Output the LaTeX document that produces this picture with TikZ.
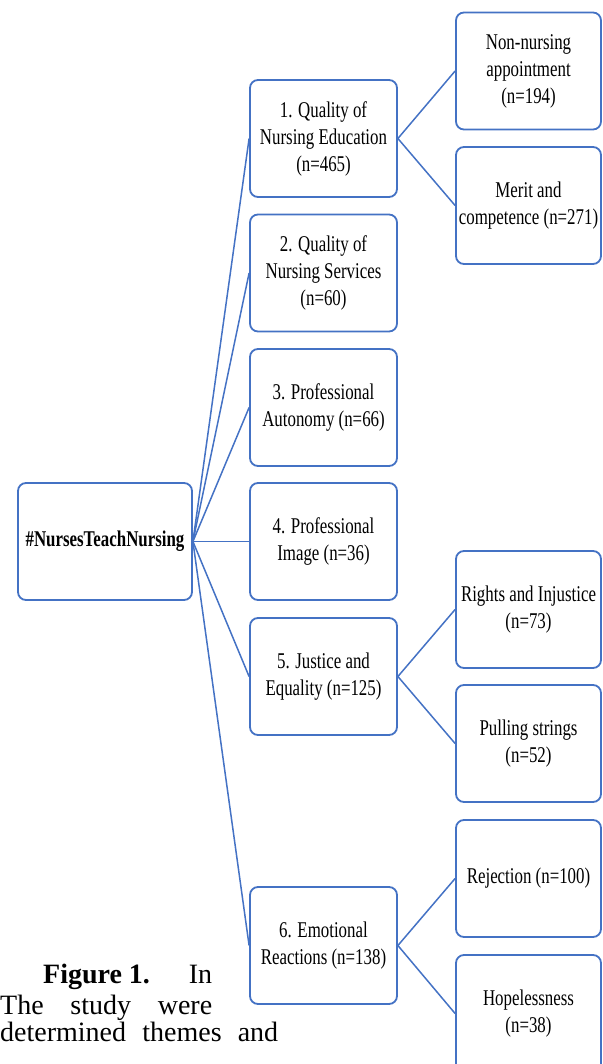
\documentclass[tikz,border=0pt]{standalone}
\usepackage{fontspec}
\setmainfont{Liberation Serif}
\newfontfamily\narrowfont[FakeStretch=0.75]{Liberation Serif}
\definecolor{themeblue}{RGB}{68,114,196}

\begin{document}
\begin{tikzpicture}[x=1pt, y=-1pt,
  theme/.style={draw=themeblue, line width=1.8pt, rounded corners=8pt, fill=white,
    minimum width=147pt, minimum height=117pt, align=center, inner sep=2pt,
    font=\narrowfont\fontsize{22.5}{27}\selectfont},
  sub/.style={theme, minimum width=145pt},
  link/.style={draw=themeblue, line width=1.5pt},
  caption/.style={anchor=base west, inner sep=0pt, font=\fontsize{28}{30}\selectfont}]
\useasboundingbox (0,0) rectangle (602,1064);
\node[theme, minimum width=174pt] (root) at (105,541.5) {\bfseries\#NursesTeachNursing};
\node[theme] (t1) at (323.5,138.5) {1. Quality of\\Nursing Education\\(n=465)};
\node[theme] (t2) at (323.5,273) {2. Quality of\\Nursing Services\\(n=60)};
\node[theme] (t3) at (323.5,407.5) {3. Professional\\Autonomy (n=66)};
\node[theme] (t4) at (323.5,541.5) {4. Professional\\Image (n=36)};
\node[theme] (t5) at (323.5,676.5) {5. Justice and\\Equality (n=125)};
\node[theme] (t6) at (323.5,945.5) {6. Emotional\\Reactions (n=138)};
\node[sub] (s1) at (528.5,71) {Non-nursing\\appointment\\(n=194)};
\node[sub] (s2) at (528.5,205.5) {Merit and\\competence (n=271)};
\node[sub] (s3) at (528.5,609.5) {Rights and Injustice\\(n=73)};
\node[sub] (s4) at (528.5,743.5) {Pulling strings\\(n=52)};
\node[sub] (s5) at (528.5,878.5) {Rejection (n=100)};
\node[sub] (s6) at (528.5,1013.5) {Hopelessness\\(n=38)};
\draw[link] (root.east) -- (t1.west);
\draw[link] (root.east) -- (t2.west);
\draw[link] (root.east) -- (t3.west);
\draw[link] (root.east) -- (t4.west);
\draw[link] (root.east) -- (t5.west);
\draw[link] (root.east) -- (t6.west);
\draw[link] (t1.east) -- (s1.west);
\draw[link] (t1.east) -- (s2.west);
\draw[link] (t5.east) -- (s3.west);
\draw[link] (t5.east) -- (s4.west);
\draw[link] (t6.east) -- (s5.west);
\draw[link] (t6.east) -- (s6.west);
\node[caption] (cap1) at (0,983) {\makebox[212pt][s]{\hspace*{43pt}\mbox{\bfseries Figure 1.} In}};
\node[caption] (cap2) at (0,1014) {\makebox[212pt][s]{The study were}};
\node[caption] (cap3) at (0,1041) {\makebox[278pt][s]{determined themes and}};
\end{tikzpicture}
\end{document}
